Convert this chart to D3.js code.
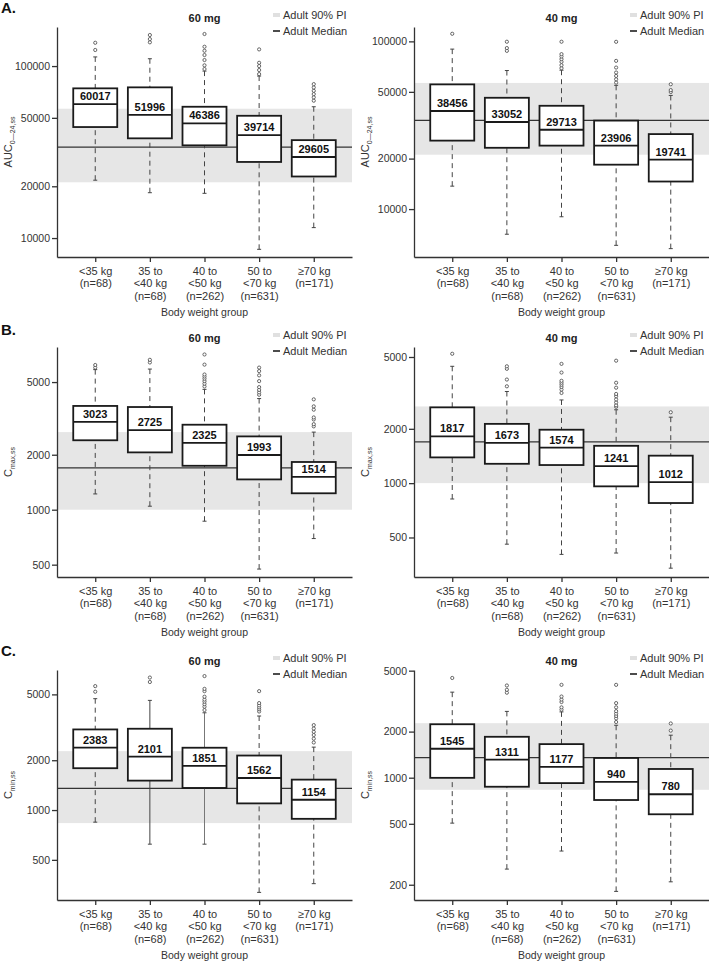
<!DOCTYPE html>
<html lang="en">
<head>
    <meta charset="UTF-8">
    <title>Exposure by body weight group</title>
    <script src="https://d3js.org/d3.v7.min.js"></script>
    <style>
        body { margin: 0; background: #fff; }
        svg { font-family: "Liberation Sans", Arial, sans-serif; }
        .axis path, .axis line { stroke: #333; stroke-width: 1.3; }
        .axis text { font-size: 10.5px; fill: #333; }
        .axis .cat { font-size: 11px; }
        .legend text { font-size: 11px; fill: #333; }
        .title { font-size: 11px; font-weight: bold; fill: #222; }
        .boxlabel { font-size: 11px; font-weight: bold; fill: #111; }
    </style>
</head>
<body>
<div id="chart"></div>
<script>
// category labels (one entry per line)
const groups = [
    ["<35 kg", "(n=68)"],
    ["35 to", "<40 kg", "(n=68)"],
    ["40 to", "<50 kg", "(n=262)"],
    ["50 to", "<70 kg", "(n=631)"],
    ["≥70 kg", "(n=171)"]
];

// adult reference: [5th pct, median, 95th pct]
const aucAdult = [21100, 33800, 56500];
const cmaxAdult = [1000, 1693, 2660];
const cminAdult = [834, 1352, 2270];

const aucTicks = [10000, 20000, 50000, 100000];
const cTicks = [500, 1000, 2000, 5000];
const cmin40Ticks = [200, 500, 1000, 2000, 5000];

// A. AUC 60 mg
const auc60Median = [60017, 51996, 46386, 39714, 29605];
const auc60Box = [[44200, 74200], [38000, 75200], [34600, 58000], [27700, 51400], [22800, 37100]];
const auc60Whisker = [[21700, 113000], [18350, 110300], [18200, 93500], [8600, 87500], [11500, 58000]];
const auc60Outliers = [[124000, 136600], [137400, 143500, 151500],
    [96100, 101000, 108400, 115900, 122700, 129500, 153600],
    [89800, 94800, 100000, 104500, 125000], [62900, 65800, 68700, 71800, 75100, 78500]];
const auc60Domain = [7760, 168700];

// A. AUC 40 mg
const auc40Median = [38456, 33052, 29713, 23906, 19741];
const auc40Box = [[25600, 55400], [23200, 46100], [23900, 41300], [18400, 33700], [14600, 28000]];
const auc40Whisker = [[13700, 89900], [7080, 67000], [9000, 67300], [6080, 54700], [5810, 47600]];
const auc40Outliers = [[111000], [87800, 91200, 99500],
    [69200, 72100, 75500, 78300, 81300, 83900, 99500],
    [56800, 59400, 62200, 65200, 69800, 76500, 99400], [49900, 51200, 55500]];
const auc40Domain = [5180, 121800];

// B. Cmax 60 mg
const cmax60Median = [3023, 2725, 2325, 1993, 1514];
const cmax60Box = [[2400, 3700], [2060, 3650], [1740, 2920], [1465, 2520], [1230, 1825]];
const cmax60Whisker = [[1220, 5850], [1045, 5890], [865, 4560], [473, 4060], [695, 2660]];
const cmax60Outliers = [[6000, 6200], [6400, 6620],
    [4730, 4900, 5060, 5220, 5360, 5500, 6230, 7080],
    [4260, 4390, 4530, 4690, 5060, 5440, 5740, 6000],
    [2860, 2940, 3120, 3200, 3530, 3680, 4020]];
const cmax60Domain = [428, 7780];

// B. Cmax 40 mg
const cmax40Median = [1817, 1673, 1574, 1241, 1012];
const cmax40Box = [[1389, 2630], [1280, 2130], [1260, 1977], [960, 1610], [776, 1420]];
const cmax40Whisker = [[817, 4440], [459, 3220], [403, 2890], [410, 2550], [338, 2320]];
const cmax40Outliers = [[5210], [3440, 3750, 4300, 4440],
    [3160, 3300, 3410, 3510, 3600, 3690, 4100, 4580],
    [2650, 2700, 2800, 2910, 3030, 3120, 3380, 3600, 4770], [2470]];
const cmax40Domain = [302, 5680];

// C. Cmin 60 mg
const cmin60Median = [2383, 2101, 1851, 1562, 1154];
const cmin60Box = [[1790, 3070], [1506, 3100], [1360, 2380], [1097, 2135], [885, 1527]];
const cmin60Whisker = [[845, 4710], [622, 4600], [622, 3870], [318, 3700], [359, 2400]];
const cmin60Outliers = [[5190, 5610], [5940, 6320],
    [4020, 4210, 4360, 4520, 4650, 4840, 5230, 5400, 6450],
    [3940, 4060, 4170, 4290, 4430, 5230], [2560, 2700, 2840, 2970, 3110, 3260]];
const cmin60Domain = [286, 7020];

// C. Cmin 40 mg
const cmin40Median = [1545, 1311, 1177, 940, 780];
const cmin40Box = [[998, 2234], [873, 1850], [922, 1657], [715, 1345], [577, 1140]];
const cmin40Whisker = [[505, 3620], [253, 2710], [332, 2690], [181, 2200], [209, 1895]];
const cmin40Outliers = [[4480], [3590, 3750, 4000],
    [2780, 2880, 3120, 3240, 3390, 4040],
    [2310, 2440, 2530, 2620, 2720, 2880, 3070, 4040], [2030, 2260]];
const cmin40Domain = [159, 5050];

const panels = [
    { letter: "A.", row: 0, col: 0, dose: "60 mg", ylab: ["AUC", "0\u201424,ss"], adult: aucAdult, ticks: aucTicks,
      median: auc60Median, box: auc60Box, whisker: auc60Whisker, outliers: auc60Outliers, domain: auc60Domain },
    { row: 0, col: 1, dose: "40 mg", ylab: ["AUC", "0\u201424,ss"], adult: aucAdult, ticks: aucTicks,
      median: auc40Median, box: auc40Box, whisker: auc40Whisker, outliers: auc40Outliers, domain: auc40Domain },
    { letter: "B.", row: 1, col: 0, dose: "60 mg", ylab: ["C", "max,ss"], adult: cmaxAdult, ticks: cTicks,
      median: cmax60Median, box: cmax60Box, whisker: cmax60Whisker, outliers: cmax60Outliers, domain: cmax60Domain },
    { row: 1, col: 1, dose: "40 mg", ylab: ["C", "max,ss"], adult: cmaxAdult, ticks: cTicks,
      median: cmax40Median, box: cmax40Box, whisker: cmax40Whisker, outliers: cmax40Outliers, domain: cmax40Domain },
    { letter: "C.", row: 2, col: 0, dose: "60 mg", ylab: ["C", "min,ss"], adult: cminAdult, ticks: cTicks,
      median: cmin60Median, box: cmin60Box, whisker: cmin60Whisker, outliers: cmin60Outliers, domain: cmin60Domain,
      solid: [false, true, true, false, false] },
    { row: 2, col: 1, dose: "40 mg", ylab: ["C", "min,ss"], adult: cminAdult, ticks: cmin40Ticks,
      median: cmin40Median, box: cmin40Box, whisker: cmin40Whisker, outliers: cmin40Outliers, domain: cmin40Domain }
];

const W = 295, H = 230;
const colX = [57, 414];
const rowY = [27, 347, 670];
const letterY = [13, 335, 656];
const boxHalf = 22;

const svg = d3.select("#chart").append("svg")
    .attr("width", 709)
    .attr("height", 963);

panels.forEach(p => {
    const g = svg.append("g")
        .attr("transform", `translate(${colX[p.col]},${rowY[p.row]})`);

    const x = d3.scalePoint()
        .domain(d3.range(groups.length))
        .range([0, W])
        .padding(0.7);
    const y = d3.scaleLog()
        .domain(p.domain)
        .range([H, 0]);

    // adult 90% PI band + median
    g.append("rect")
        .attr("x", 0).attr("width", W)
        .attr("y", y(p.adult[2]))
        .attr("height", y(p.adult[0]) - y(p.adult[2]))
        .attr("fill", "#e6e6e6");
    g.append("line")
        .attr("x1", 0).attr("x2", W)
        .attr("y1", y(p.adult[1])).attr("y2", y(p.adult[1]))
        .attr("stroke", "#333").attr("stroke-width", 1.2);

    groups.forEach((grp, i) => {
        const cx = x(i);
        const solid = p.solid && p.solid[i];
        // whiskers: [end, box edge]
        [[p.whisker[i][1], p.box[i][1]], [p.whisker[i][0], p.box[i][0]]].forEach(([end, edge]) => {
            g.append("line")
                .attr("x1", cx).attr("x2", cx)
                .attr("y1", y(end)).attr("y2", y(edge))
                .attr("stroke", i === 2 && solid ? "#777" : "#444")
                .attr("stroke-width", 1)
                .attr("stroke-dasharray", solid ? null : "5,4");
            g.append("line")
                .attr("x1", cx - 2).attr("x2", cx + 2)
                .attr("y1", y(end)).attr("y2", y(end))
                .attr("stroke", "#444").attr("stroke-width", 1);
        });

        // outliers
        g.selectAll(null)
            .data(p.outliers[i])
            .enter()
            .append("circle")
            .attr("cx", cx)
            .attr("cy", d => y(d))
            .attr("r", 1.6)
            .attr("fill", "#fff")
            .attr("stroke", "#444")
            .attr("stroke-width", 0.8);

        // box
        g.append("rect")
            .attr("x", cx - boxHalf)
            .attr("width", boxHalf * 2)
            .attr("y", y(p.box[i][1]))
            .attr("height", y(p.box[i][0]) - y(p.box[i][1]))
            .attr("fill", "#fff")
            .attr("stroke", "#1a1a1a")
            .attr("stroke-width", 1.8);
        g.append("line")
            .attr("x1", cx - boxHalf).attr("x2", cx + boxHalf)
            .attr("y1", y(p.median[i])).attr("y2", y(p.median[i]))
            .attr("stroke", "#1a1a1a").attr("stroke-width", 1.8);
        g.append("text")
            .attr("class", "boxlabel")
            .attr("x", cx)
            .attr("y", y(p.median[i]) - 4)
            .attr("text-anchor", "middle")
            .text(p.median[i]);
    });

    // axes
    g.append("g")
        .attr("class", "axis")
        .call(d3.axisLeft(y)
            .tickValues(p.ticks)
            .tickFormat(d3.format("d"))
            .tickSize(5)
            .tickSizeOuter(0)
            .tickPadding(2));

    const xAxis = g.append("g")
        .attr("class", "axis")
        .attr("transform", `translate(0,${H})`)
        .call(d3.axisBottom(x).tickSize(5).tickSizeOuter(0).tickFormat(""));
    xAxis.selectAll(".tick").append("text")
        .attr("class", "cat")
        .attr("fill", "#333")
        .attr("text-anchor", "middle")
        .selectAll("tspan")
        .data(i => groups[i])
        .enter()
        .append("tspan")
        .attr("x", 0)
        .attr("y", (d, k) => 18 + k * 12.3)
        .text(d => d);

    g.append("text")
        .attr("x", W / 2)
        .attr("y", H + 59)
        .attr("text-anchor", "middle")
        .attr("font-size", "10.5px")
        .attr("fill", "#333")
        .text("Body weight group");

    // y label with subscript
    const yl = g.append("text")
        .attr("transform", `translate(-45,${H / 2}) rotate(-90)`)
        .attr("text-anchor", "middle")
        .attr("font-size", "11px")
        .attr("fill", "#333");
    yl.append("tspan").text(p.ylab[0]);
    yl.append("tspan").attr("dy", 3).attr("font-size", "7px").text(p.ylab[1]);

    // title
    g.append("text")
        .attr("class", "title")
        .attr("x", W / 2)
        .attr("y", -5)
        .attr("text-anchor", "middle")
        .text(p.dose);

    // legend
    const lg = g.append("g").attr("class", "legend");
    lg.append("line")
        .attr("x1", 216).attr("x2", 223)
        .attr("y1", -12).attr("y2", -12)
        .attr("stroke", "#e0e0e0").attr("stroke-width", 4);
    lg.append("text").attr("x", 226).attr("y", -8).text("Adult 90% PI");
    lg.append("line")
        .attr("x1", 216).attr("x2", 223)
        .attr("y1", 4).attr("y2", 4)
        .attr("stroke", "#111").attr("stroke-width", 1.5);
    lg.append("text").attr("x", 226).attr("y", 8).text("Adult Median");

    if (p.letter) {
        svg.append("text")
            .attr("x", 1)
            .attr("y", letterY[p.row])
            .attr("font-size", "15px")
            .attr("font-weight", "bold")
            .attr("fill", "#111")
            .text(p.letter);
    }
});
</script>
</body>
</html>
